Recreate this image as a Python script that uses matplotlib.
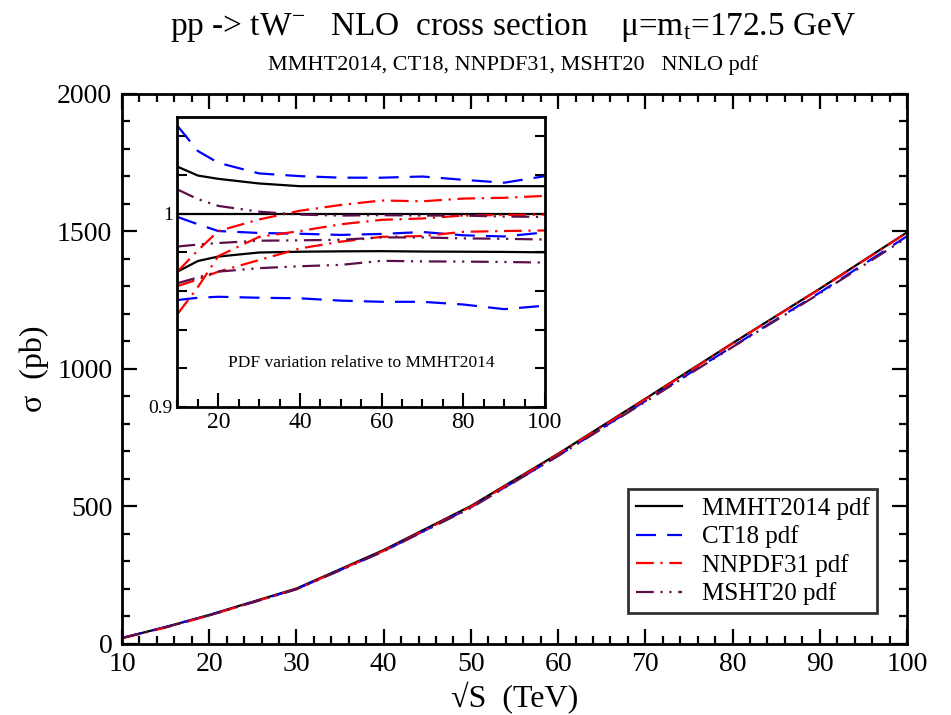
import matplotlib
matplotlib.use("Agg")
import matplotlib.pyplot as plt
from matplotlib.ticker import MultipleLocator

plt.rcParams['font.family'] = ['Liberation Serif', 'DejaVu Serif']
plt.rcParams['mathtext.fontset'] = 'custom'
plt.rcParams['mathtext.rm'] = 'Liberation Serif'
plt.rcParams['mathtext.it'] = 'Liberation Serif'

# sqrt(S) grid in TeV
rs = [10, 15, 20, 30, 40, 50, 60, 70, 80, 90, 100]

# main panel: cross sections in pb
sig_mmht = [20, 60, 104, 200, 340, 500, 690, 890, 1092, 1290, 1495]
sig_ct18 = [20, 60, 103, 198, 336, 495, 683, 882, 1080, 1276, 1481]
sig_nnpdf = [19, 58, 102, 198, 337, 497, 688, 888, 1091, 1289, 1494]
sig_msht = [20, 59, 102, 197, 335, 493, 682, 879, 1078, 1273, 1476]

# inset: ratios to MMHT2014 central (central, upper, lower)
mmht_c = [1.0] * 11
mmht_up = [1.0243, 1.0197, 1.018, 1.0156, 1.0142, 1.0142, 1.0142, 1.0142, 1.0142, 1.0142, 1.0142]
mmht_lo = [0.970, 0.9755, 0.9778, 0.9799, 0.9803, 0.9805, 0.9806, 0.9804, 0.9803, 0.9802, 0.980]
ct18_c = [0.9983, 0.9945, 0.991, 0.990, 0.9896, 0.989, 0.9895, 0.9905, 0.9888, 0.9882, 0.9903]
ct18_up = [1.0454, 1.0324, 1.0263, 1.0208, 1.0194, 1.0186, 1.0186, 1.0192, 1.0175, 1.016, 1.0194]
ct18_lo = [0.9553, 0.9565, 0.957, 0.9565, 0.9562, 0.955, 0.9544, 0.9544, 0.953, 0.9506, 0.9524]
nnpdf_c = [0.948, 0.962, 0.978, 0.988, 0.991, 0.9945, 0.9968, 0.9975, 0.999, 0.9993, 0.9995]
nnpdf_up = [0.970, 0.981, 0.991, 0.997, 1.0015, 1.0045, 1.0068, 1.0064, 1.0078, 1.0082, 1.0092]
nnpdf_lo = [0.9625, 0.966, 0.970, 0.976, 0.982, 0.9855, 0.988, 0.9884, 0.9906, 0.991, 0.9913]
msht_c = [0.983, 0.984, 0.9848, 0.986, 0.9862, 0.9865, 0.9877, 0.9877, 0.9872, 0.987, 0.9866]
msht_up = [1.0125, 1.0075, 1.004, 1.001, 0.9995, 0.999, 0.9992, 0.999, 0.999, 0.9985, 0.9983]
msht_lo = [0.964, 0.967, 0.970, 0.9718, 0.9728, 0.9735, 0.9756, 0.9753, 0.9752, 0.975, 0.9747]

purple = '#5c0f4c'
sty = {
    'mmht': dict(color='black', linestyle='-'),
    'ct18': dict(color='blue', linestyle=(0, (9, 5))),
    'nnpdf': dict(color='red', linestyle=(0, (8, 3, 1, 3))),
    'msht': dict(color=purple, linestyle=(0, (8, 3, 1, 3, 1, 3))),
}

fig = plt.figure(figsize=(9.51, 7.15), dpi=100)
ax = fig.add_axes([0.1283, 0.1, 0.8254, 0.7692])

ax.plot(rs, sig_mmht, lw=1.6, label='MMHT2014 pdf', **sty['mmht'])
ax.plot(rs, sig_ct18, lw=1.6, label='CT18 pdf', **sty['ct18'])
ax.plot(rs, sig_nnpdf, lw=1.6, label='NNPDF31 pdf', **sty['nnpdf'])
ax.plot(rs, sig_msht, lw=1.6, label='MSHT20 pdf', **sty['msht'])

ax.set_xlim(10, 100)
ax.set_ylim(0, 2000)
ax.xaxis.set_major_locator(MultipleLocator(10))
ax.xaxis.set_minor_locator(MultipleLocator(2))
ax.yaxis.set_major_locator(MultipleLocator(500))
ax.yaxis.set_minor_locator(MultipleLocator(100))
ax.tick_params(which='both', direction='in', top=True, right=True, width=1.6, labelsize=20)
ax.tick_params(which='major', length=11)
ax.tick_params(which='minor', length=6)
ax.tick_params(axis='x', pad=6)
ax.tick_params(axis='y', pad=7)
for s in ax.spines.values():
    s.set_linewidth(2)
ax.set_xlabel('\u221aS  (TeV)', fontsize=23, labelpad=4)
ax.set_ylabel('\u03c3  (pb)', fontsize=23, labelpad=6)

leg = ax.legend(loc='lower right', bbox_to_anchor=(0.978, 0.033), fontsize=18,
                frameon=True, fancybox=False, edgecolor='black', handlelength=1.85,
                labelspacing=0.22, borderpad=0.3, handletextpad=0.8)
leg.get_frame().set_linewidth(2)

fig.text(0.54, 0.961, 'pp -> tW$^{-}$   NLO  cross section    \u03bc=m$_{t}$=172.5 GeV',
         ha='center', va='center', fontsize=24)
fig.text(0.54, 0.909, 'MMHT2014, CT18, NNPDF31, MSHT20   NNLO pdf',
         ha='center', va='center', fontsize=16)

# inset with ratios
ins = fig.add_axes([0.1866, 0.4308, 0.3865, 0.4056])
for name, curves in [('mmht', (mmht_c, mmht_up, mmht_lo)),
                     ('ct18', (ct18_c, ct18_up, ct18_lo)),
                     ('nnpdf', (nnpdf_c, nnpdf_up, nnpdf_lo)),
                     ('msht', (msht_c, msht_up, msht_lo))]:
    for c in curves:
        ins.plot(rs, c, lw=1.6, **sty[name])
ins.set_xlim(10, 100)
ins.set_ylim(0.9, 1.05)
ins.xaxis.set_major_locator(MultipleLocator(20))
ins.xaxis.set_minor_locator(MultipleLocator(5))
ins.set_yticks([0.9, 1.0])
ins.set_yticklabels(['0.9', '1'])
ins.yaxis.set_minor_locator(MultipleLocator(0.02))
ins.tick_params(which='both', direction='in', right=True, top=False, width=1.5)
ins.tick_params(axis='x', which='major', length=10, labelsize=17)
ins.tick_params(axis='x', which='minor', length=6)
ins.tick_params(axis='y', which='both', length=7, labelsize=14)
for s in ins.spines.values():
    s.set_linewidth(2)
ins.text(0.5, 0.15, 'PDF variation relative to MMHT2014', transform=ins.transAxes,
         ha='center', va='center', fontsize=12.5)

fig.savefig('out.png', dpi=100)
